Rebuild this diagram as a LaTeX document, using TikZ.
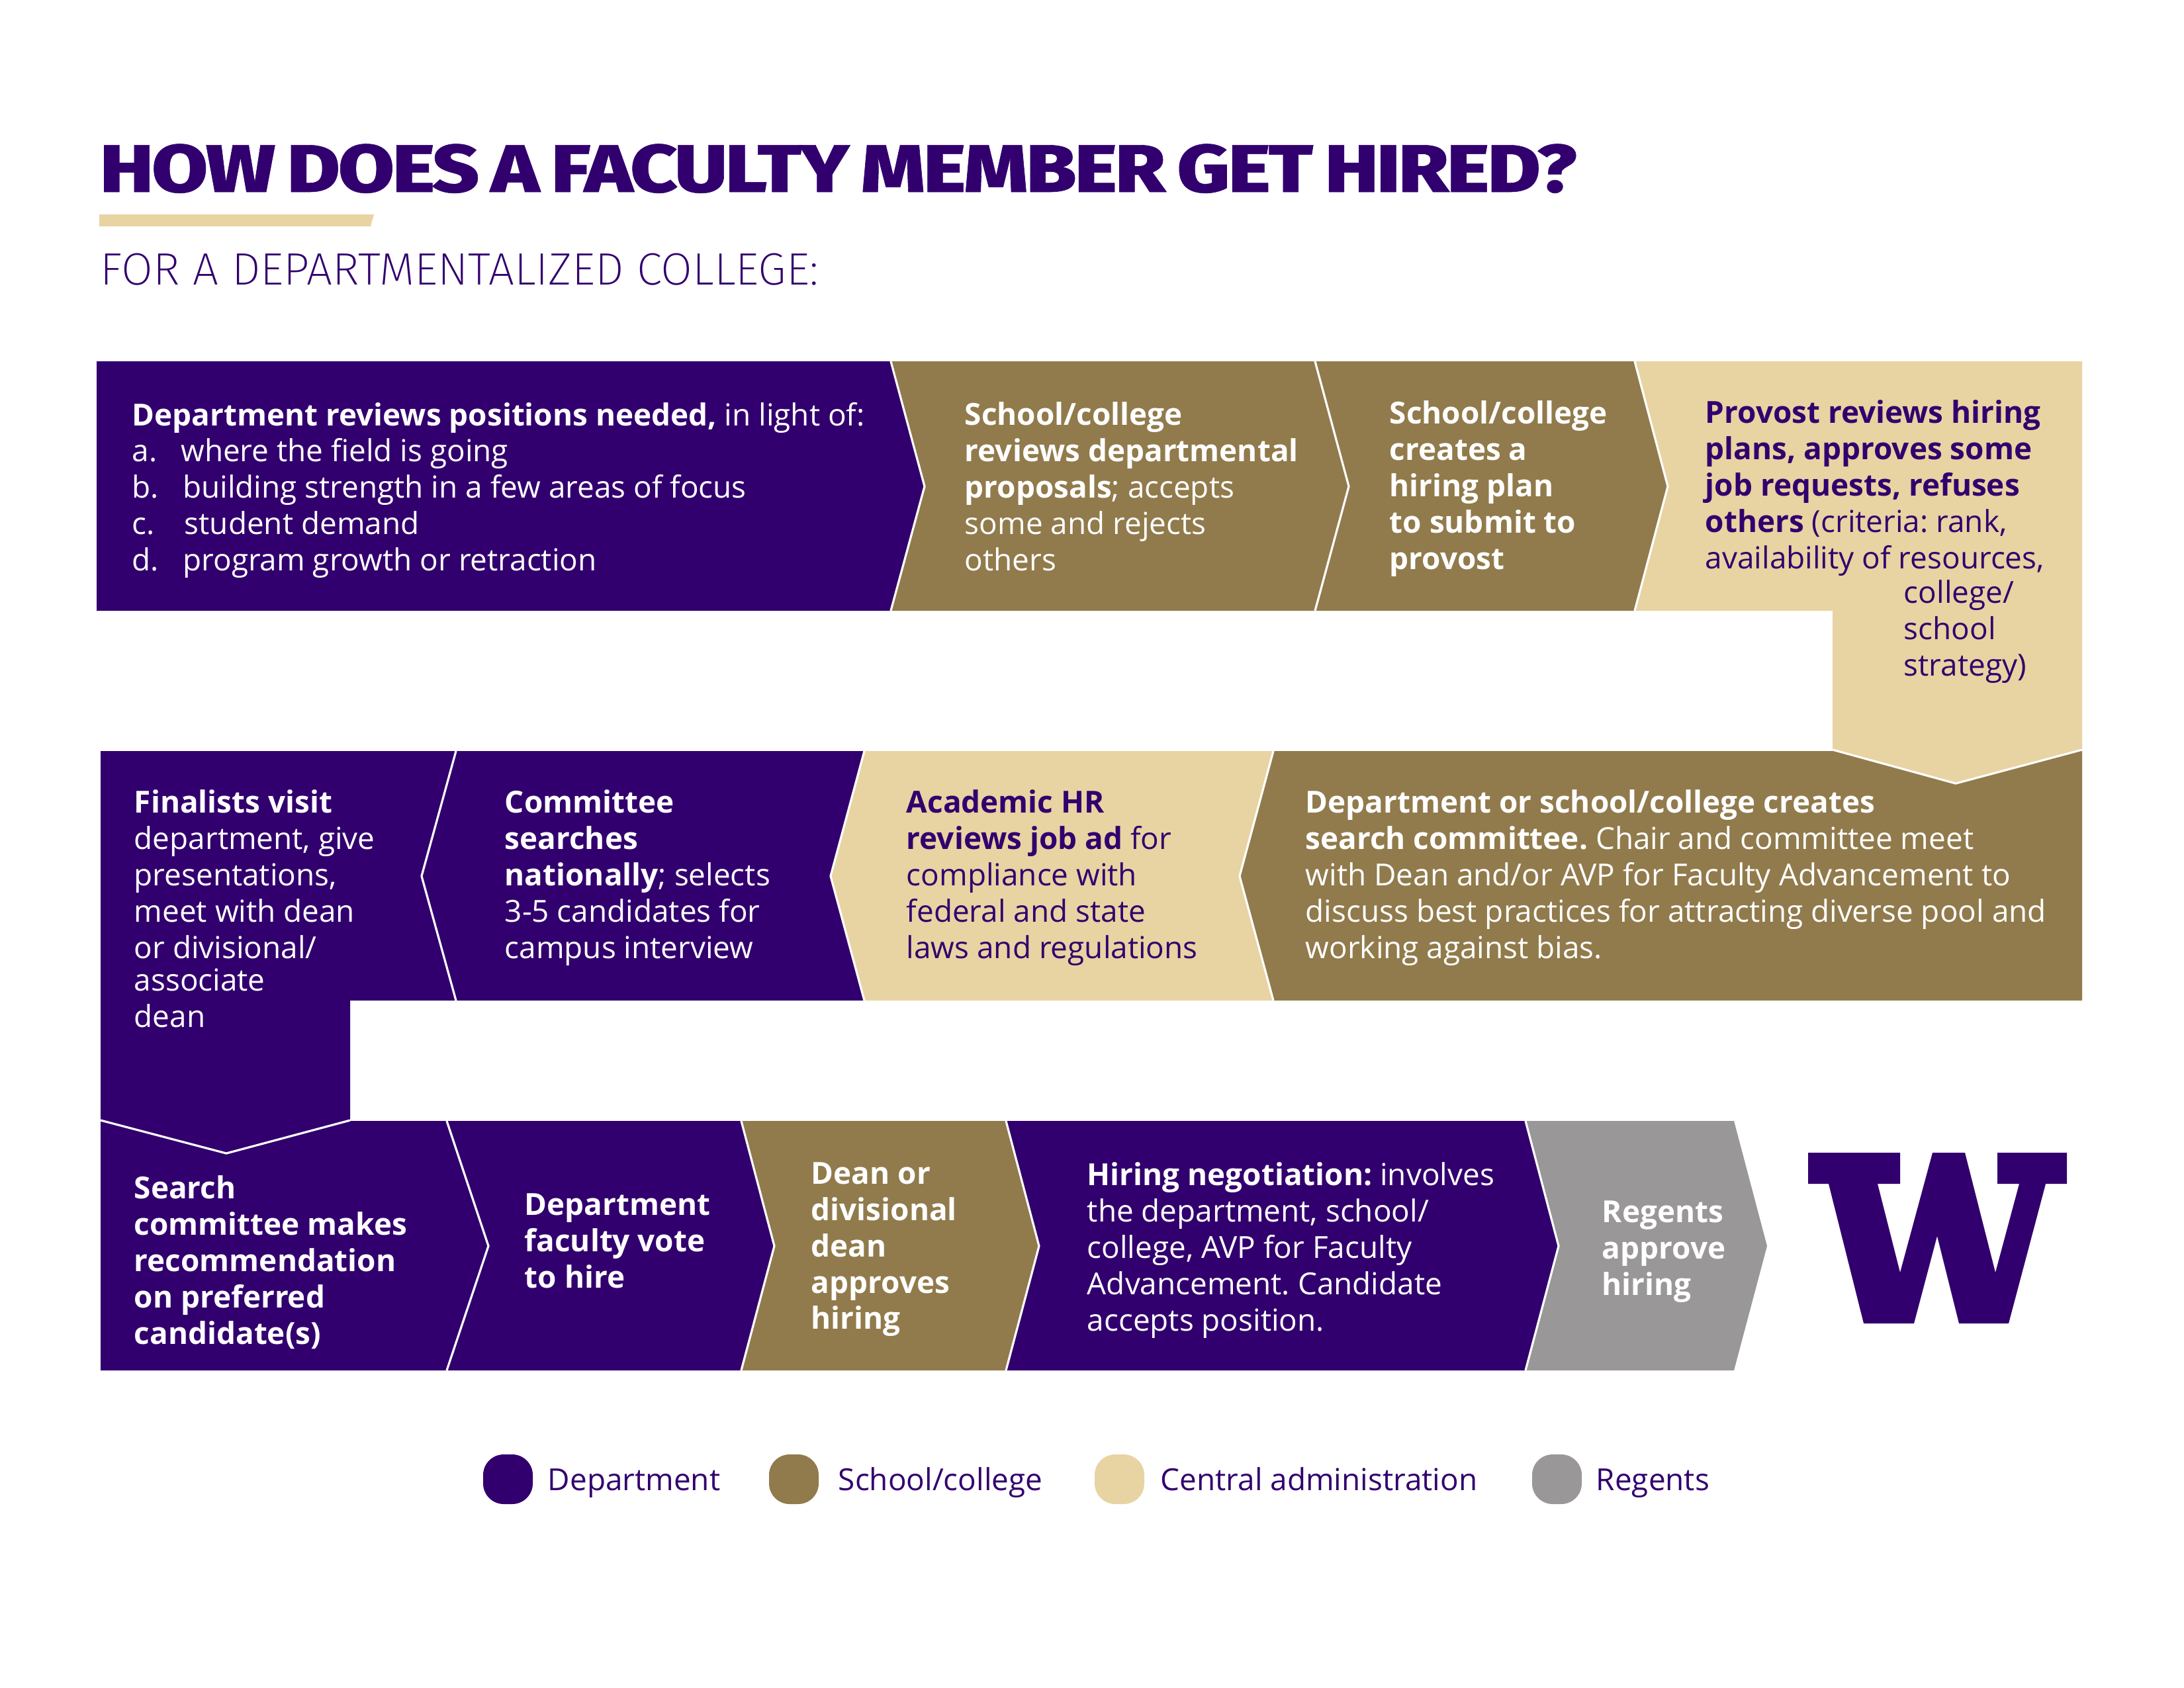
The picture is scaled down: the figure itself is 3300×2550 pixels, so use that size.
\documentclass[tikz,border=0pt]{standalone}
\usepackage{fontspec}
\setmainfont{Open Sans}
\newfontfamily\titlefont[FakeStretch=1.21,LetterSpace=-3,FakeBold=0.6,WordSpace=0.7]{Fira Sans ExtraBold}
\newfontfamily\subfont[FakeStretch=1.01]{Fira Sans ExtraLight}
\definecolor{uwpurple}{HTML}{32006E}
\definecolor{uwgold}{HTML}{917B4C}
\definecolor{uwsand}{HTML}{E8D3A2}
\definecolor{uwgrey}{HTML}{999798}
\tikzset{
	txt/.style={anchor=north west,inner sep=0pt,align=left,yshift=8.16pt,text=white,
		font=\fontsize{11.05}{13.2}\selectfont,execute at begin node={\frenchspacing\strut}},
	txtdark/.style={txt,text=uwpurple},
	sep/.style={draw=white,line width=0.77pt,line join=miter},
	legendtxt/.style={anchor=base west,inner sep=0pt,text=uwpurple,font=\fontsize{11.05}{13.2}\selectfont},
	px/.style={x=1in/300,y=-1in/300}
}
\begin{document}
\begin{tikzpicture}[px,line join=round]
	\useasboundingbox (0,0) rectangle (3300,2550);
	%Title
	\node[anchor=base west,inner sep=0pt,text=uwpurple,font=\titlefont\fontsize{24.5}{28}\selectfont] (title) at (150,290) {HOW DOES A FACULTY MEMBER GET HIRED?};
	\fill[uwsand] (150,324) -- (565,324) -- (560,342) -- (150,342) --cycle;
	\node[anchor=base west,inner sep=0pt,text=uwpurple,font=\subfont\fontsize{16.5}{20}\selectfont] (subtitle) at (151,430) {FOR A DEPARTMENTALIZED COLLEGE:};
	%Row 1
	\fill[uwpurple] (146,546) -- (1346,546) -- (1397,735) -- (1346,923) -- (146,923) --cycle;
	\foreach \xa/\xb in {1346/1987,1987/2470}{
		\fill[uwgold] (\xa,546) -- (\xb,546) -- ({\xb+51},735) -- (\xb,923) -- (\xa,923) -- ({\xa+51},735) --cycle;
	}
	%Row 2
	\fill[uwgold] (1924,1135) -- (3146,1135) -- (3146,1512) -- (1924,1512) -- (1873,1324) --cycle;
	\fill[uwsand] (1306,1135) -- (1924,1135) -- (1873,1324) -- (1924,1512) -- (1306,1512) -- (1255,1324) --cycle;
	\fill[uwpurple] (689,1135) -- (1306,1135) -- (1255,1324) -- (1306,1512) -- (689,1512) -- (637,1324) --cycle;
	%Row 3
	\fill[uwpurple] (152,1694) -- (675,1694) -- (738,1883) -- (675,2071) -- (152,2071) --cycle;
	\foreach \xa/\xb/\cc in {675/1120/uwpurple,1120/1520/uwgold,1520/2305/uwpurple,2305/2620/uwgrey}{
		\fill[\cc] (\xa,1694) -- (\xb,1694) -- ({\xb+50},1883) -- (\xb,2071) -- (\xa,2071) -- ({\xa+50},1883) --cycle;
	}
	%Boxes that turn down
	\fill[uwsand] (2470,546) -- (3146,546) -- (3146,1133) -- (2955,1184) -- (2769,1133) -- (2769,923) -- (2470,923) -- (2520,735) --cycle;
	\fill[uwpurple] (152,1135) -- (689,1135) -- (637,1324) -- (689,1512) -- (529,1512) -- (529,1693) -- (342,1743) -- (152,1693) --cycle;
	%White lines between the boxes
	\foreach \xa/\xb in {1346/1397,1987/2038,2470/2520}{
		\draw[sep] (\xa,546) -- (\xb,735) -- (\xa,923);
	}
	\foreach \xa/\xb in {689/637,1306/1255,1924/1873}{
		\draw[sep] (\xa,1135) -- (\xb,1324) -- (\xa,1512);
	}
	\foreach \xa/\xb in {675/738,1120/1170,1520/1570,2305/2355}{
		\draw[sep] (\xa,1694) -- (\xb,1883) -- (\xa,2071);
	}
	\draw[sep] (2769,1133) -- (2955,1184) -- (3146,1133);
	\draw[sep] (152,1693) -- (342,1743) -- (529,1693);
	%Texts
	\node[txt] (positions) at (199,641) {\textbf{Department reviews positions needed,} in light of:\\
		a.\hspace{0.78em}where the field is going\\
		b.\hspace{0.79em}building strength in a few areas of focus\\
		c.\hspace{0.98em}student demand\\
		d.\hspace{0.79em}program growth or retraction};
	\node[txt] (proposals) at (1457,641) {\textbf{School/college}\\\textbf{reviews departmental}\\\textbf{proposals}; accepts\\some and rejects\\others};
	\node[txt] (plan) at (2099,639) {\textbf{School/college}\\\textbf{creates a}\\\textbf{hiring plan}\\\textbf{to submit to}\\\textbf{provost}};
	\node[txtdark] (provost) at (2576,638) {\textbf{Provost reviews hiring}\\\textbf{plans, approves some}\\\textbf{job requests, refuses}\\\textbf{others} (criteria: rank,\\availability of resources,};
	\node[txtdark] (strategy) at (2876,910) {college/\\school\\strategy)};
	\node[txt] (search) at (1972,1227) {\textbf{Department or school/college creates}\\\textbf{search committee.} Chair and committee meet\\with Dean and/or AVP for Faculty Advancement to\\discuss best practices for attracting diverse pool and\\working against bias.};
	\node[txtdark] (hr) at (1369,1227) {\textbf{Academic HR}\\\textbf{reviews job ad} for\\compliance with\\federal and state\\laws and regulations};
	\node[txt] (committee) at (762,1227) {\textbf{Committee}\\\textbf{searches}\\\textbf{nationally}; selects\\3-5 candidates for\\campus interview};
	\node[txt] (finalists) at (202,1227) {\textbf{Finalists visit}\\department, give\\presentations,\\meet with dean\\or divisional/\\[-1.2pt]associate\\dean};
	\node[txt] (recommend) at (202,1810) {\textbf{Search}\\\textbf{committee makes}\\\textbf{recommendation}\\\textbf{on preferred}\\\textbf{candidate(s)}};
	\node[txt] (vote) at (792,1837) {\textbf{Department}\\\textbf{faculty vote}\\\textbf{to hire}};
	\node[txt] (dean) at (1225,1790) {\textbf{Dean or}\\\textbf{divisional}\\\textbf{dean}\\\textbf{approves}\\\textbf{hiring}};
	\node[txt] (negotiation) at (1642,1790) {\textbf{Hiring negotiation:} involves\\the department, school/\\college, AVP for Faculty\\Advancement. Candidate\\accepts position.};
	\node[txt] (regents) at (2420,1848) {\textbf{Regents}\\\textbf{approve}\\\textbf{hiring}};
	%W
	\fill[uwpurple] (2732,1742) -- (2871,1742) -- (2871,1789) -- (2837,1789) -- (2871,1923) -- (2920,1742) -- (2969,1742) -- (3015,1923) -- (3051,1789) -- (3018,1789) -- (3018,1742) -- (3123,1742) -- (3123,1789) -- (3091,1789) -- (3035,2000) -- (2960,2000) -- (2927,1868) -- (2892,2000) -- (2816,2000) -- (2763,1789) -- (2732,1789) --cycle;
	%Legend
	\foreach \xa/\cc/\name/\lab/\xt in {730/uwpurple/department/Department/827,1162/uwgold/school/{School/college}/1266,1654/uwsand/central/Central administration/1753,2315/uwgrey/boardregents/Regents/2411}{
		\fill[\cc,rounded corners=7.5pt] (\xa,2198) rectangle ({\xa+75},2273);
		\node[legendtxt] (\name) at (\xt,2252) {\lab};
	}
\end{tikzpicture}
\end{document}
